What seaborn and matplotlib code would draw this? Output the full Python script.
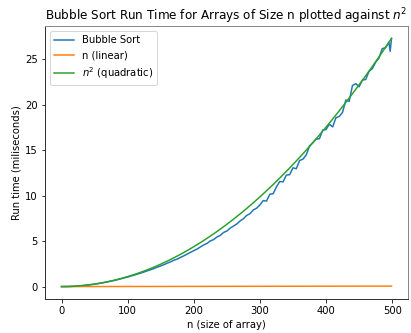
import pandas as pd
import numpy as np
import matplotlib
matplotlib.use("Agg")
import matplotlib.pyplot as plt
import seaborn as sns

n_sizes = [0, 5, 10, 15, 20, 25, 30, 35, 40, 45, 50, 55, 60, 65, 70, 75, 80, 85, 90, 95,
           100, 105, 110, 115, 120, 125, 130, 135, 140, 145, 150, 155, 160, 165, 170, 175,
           180, 185, 190, 195, 200, 205, 210, 215, 220, 225, 230, 235, 240, 245, 250, 255,
           260, 265, 270, 275, 280, 285, 290, 295, 300, 305, 310, 315, 320, 325, 330, 335,
           340, 345, 350, 355, 360, 365, 370, 375, 380, 385, 390, 395, 400, 405, 410, 415,
           420, 425, 430, 435, 440, 445, 450, 455, 460, 465, 470, 475, 480, 485, 490, 495,
           497, 499]
bubble_ms = [0.00, 0.00, 0.01, 0.02, 0.04, 0.07, 0.10, 0.13, 0.17, 0.22, 0.27, 0.33, 0.39, 0.45,
             0.53, 0.60, 0.68, 0.77, 0.86, 0.96, 1.05, 1.16, 1.26, 1.38, 1.49, 1.61, 1.74, 1.86,
             1.99, 2.14, 2.27, 2.41, 2.58, 2.72, 2.90, 3.02, 3.21, 3.38, 3.57, 3.76, 3.95, 4.12,
             4.36, 4.58, 4.74, 5.02, 5.16, 5.45, 5.62, 5.95, 6.10, 6.42, 6.65, 6.88, 7.21, 7.45,
             7.82, 8.01, 8.42, 8.61, 8.97, 9.45, 9.40, 10.15, 10.20, 10.95, 11.55, 11.50, 12.25,
             12.30, 13.05, 12.95, 13.85, 14.00, 14.45, 15.45, 15.80, 16.20, 16.25, 17.20, 17.25,
             17.85, 17.55, 18.55, 18.70, 19.15, 20.50, 20.35, 22.10, 22.30, 21.95, 22.70, 22.75,
             23.65, 23.95, 24.65, 25.10, 26.15, 26.25, 26.85, 25.85, 27.27]

# reference curves scaled to the run time
ref_n = [0, 10, 20, 30, 40, 50, 60, 70, 80, 90, 100, 110, 120, 130, 140, 150, 160, 170, 180,
         190, 200, 210, 220, 230, 240, 250, 260, 270, 280, 290, 300, 310, 320, 330, 340, 350,
         360, 370, 380, 390, 400, 410, 420, 430, 440, 450, 460, 470, 480, 490, 499]
quad_ms = [0.0, 0.011, 0.044, 0.099, 0.175, 0.274, 0.394, 0.537, 0.701, 0.887, 1.095, 1.325,
           1.577, 1.851, 2.146, 2.464, 2.803, 3.165, 3.548, 3.953, 4.380, 4.829, 5.300, 5.793,
           6.307, 6.844, 7.402, 7.983, 8.585, 9.209, 9.855, 10.523, 11.213, 11.925, 12.658,
           13.414, 14.191, 14.991, 15.812, 16.655, 17.520, 18.407, 19.316, 20.247, 21.199,
           22.174, 23.170, 24.189, 25.229, 26.291, 27.266]
lin_n = [0, 499]
lin_ms = [0.0, 0.055]

fig = plt.figure(figsize=(411 / 72, 333 / 72), dpi=72)
ax = fig.add_axes([45 / 411, 34 / 333, 363 / 411, 273 / 333])

sns.lineplot(x=n_sizes, y=bubble_ms, ax=ax, label='Bubble Sort', color='tab:blue')
sns.lineplot(x=lin_n, y=lin_ms, ax=ax, label='n (linear)', color='tab:orange')
sns.lineplot(x=ref_n, y=quad_ms, ax=ax, label='$n^2$ (quadratic)', color='tab:green')

for side in ['top', 'right', 'left', 'bottom']:
    ax.spines[side].set_visible(True)
    ax.spines[side].set_linewidth(1.0)
ax.spines['top'].set_color('#888888')
ax.spines['right'].set_color('#888888')
ax.spines['left'].set_color('#333333')
ax.spines['bottom'].set_color('#333333')

ax.set_xticks([0, 100, 200, 300, 400, 500])
ax.set_yticks([0, 5, 10, 15, 20, 25])
ax.set_xlabel("n (size of array)")
ax.set_ylabel("Run time (miliseconds)")
ax.set_title("Bubble Sort Run Time for Arrays of Size n plotted against $n^2$", fontsize=12)
ax.legend(loc='upper left')

fig.savefig("out.png", dpi=72)
